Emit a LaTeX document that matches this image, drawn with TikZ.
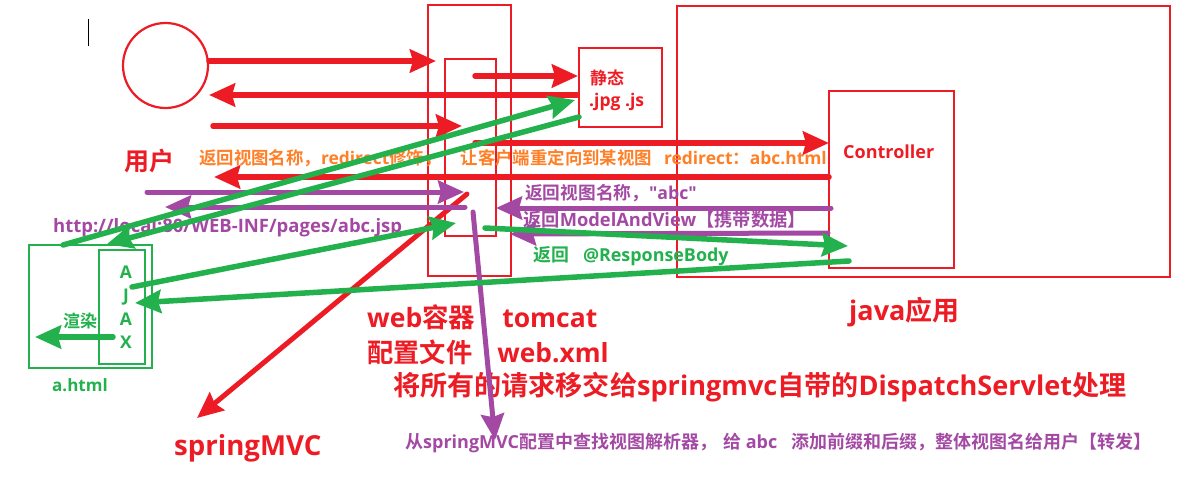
\documentclass[tikz,border=0pt]{standalone}
\usepackage{fontspec}
\setmainfont{Open Sans}
\newfontfamily\cjkfont{Noto Sans CJK SC}[BoldFont={Noto Sans CJK SC Bold}]
\usetikzlibrary{arrows.meta}
\definecolor{PaintRed}{HTML}{ED1C24}
\definecolor{PaintGreen}{HTML}{22B14C}
\definecolor{PaintPurple}{HTML}{A349A4}
\definecolor{PaintOrange}{HTML}{FF7F27}
\newcommand\pfont[1]{\fontsize{#1}{#1}\selectfont\bfseries}
\newcommand\zh[1]{{\cjkfont #1}}
\tikzset{
  redframe/.style={draw=PaintRed, line width=2.7pt, inner sep=0pt, rectangle},
  grnframe/.style={draw=PaintGreen, line width=2.7pt, inner sep=0pt, rectangle},
  lbl/.style={inner sep=0pt, anchor=west, font=\pfont{#1}},
  tip/.style={-{Stealth[length=26pt, width=23pt, inset=3pt]}, line cap=round},
  redarr/.style={tip, draw=PaintRed, line width=5.5pt},
  purarr/.style={tip, draw=PaintPurple, line width=5pt},
  grnarr/.style={tip, draw=PaintGreen, line width=5.5pt}
}
\begin{document}
\begin{tikzpicture}[x=1pt, y=-1pt]
  \useasboundingbox (0,0) rectangle (1181,484);
  \draw[line width=1pt] (88,19) -- (88,46);

  % boxes
  \node[circle, draw=PaintRed, line width=2.2pt, minimum size=85pt, inner sep=0pt] (user) at (165.5,65.5) {};
  \node[redframe, minimum width=83pt, minimum height=271pt] (tomcat) at (469.5,140.5) {};
  \node[redframe, minimum width=51pt, minimum height=177pt] (dispatch) at (470.5,147.5) {};
  \node[redframe, minimum width=83pt, minimum height=79pt] (static) at (620.5,87.5) {};
  \node[redframe, minimum width=493pt, minimum height=271pt] (javaapp) at (923.5,141.5) {};
  \node[redframe, minimum width=125pt, minimum height=177pt] (controller) at (891.5,179.5) {};
  \node[grnframe, minimum width=123pt, minimum height=123pt] (ahtml) at (90.5,306.5) {};
  \node[grnframe, minimum width=46pt, minimum height=114pt] (ajax) at (122,307) {};

  % texts
  \node[lbl=25, text=PaintRed] (userlbl) at (124,161) {\zh{用户}};
  \node[lbl=17.4, text=PaintOrange] (redirlbl) at (199,158) {\zh{返回视图名称，}redirect\zh{修饰，}\hspace{19pt}\zh{让客户端重定向到某视图}\hspace{12pt}redirect\zh{：}abc.html};
  \node[lbl=18, text=PaintRed] (ctrllbl) at (843,152) {Controller};
  \node[lbl=17, text=PaintRed] (staticlbl) at (590,78) {\zh{静态}};
  \node[lbl=17.5, text=PaintRed] (jpglbl) at (589,102) {.jpg .js};
  \node[lbl=17.7, text=PaintPurple] (viewlbl) at (525,193) {\zh{返回视图名称，}\textquotedbl abc\textquotedbl};
  \node[lbl=18.3, text=PaintPurple] (mavlbl) at (523,220) {\zh{返回}ModelAndView\zh{【携带数据】}};
  \node[lbl=17.9, text=PaintGreen] (bodylbl) at (533,256) {\zh{返回}\hspace{14pt}@ResponseBody};
  \node[lbl=18.5, text=PaintPurple] (urllbl) at (53,228) {http://local:80/WEB-INF/pages/abc.jsp};
  \node[inner sep=0pt, align=center, font=\pfont{17.5}, text=PaintGreen] (ajaxlbl) at (126,307) {A\\[6pt]J\\[6pt]A\\[6pt]X};
  \node[lbl=17, text=PaintGreen] (renderlbl) at (63,321) {\zh{渲染}};
  \node[lbl=17, text=PaintGreen] (ahtmllbl) at (52,385) {a.html};
  \node[lbl=26.5, text=PaintRed] (weblbl) at (367,317) {web\zh{容器}\hspace{27pt}tomcat};
  \node[lbl=26.3, text=PaintRed] (xmllbl) at (367,352) {\zh{配置文件}\hspace{25pt}web.xml};
  \node[lbl=27.1, text=PaintRed] (dsplbl) at (393,387) {\zh{将所有的请求移交给}springmvc\zh{自带的}DispatchServlet\zh{处理}};
  \node[lbl=27.6, text=PaintRed] (mvclbl) at (174,448) {springMVC};
  \node[lbl=27, text=PaintRed] (javalbl) at (849,312) {java\zh{应用}};
  \node[lbl=18, text=PaintPurple] (resolvlbl) at (405,443) {\zh{从}springMVC\zh{配置中查找视图解析器，}\hspace{6pt}\zh{给} abc\hspace{14pt}\zh{添加前缀和后缀，整体视图名给用户【转发】}};

  % arrow ends
  \coordinate (r1a) at (209,61);  \coordinate (r1b) at (436,61);
  \coordinate (r2a) at (577,95);  \coordinate (r2b) at (209,95);
  \coordinate (r3a) at (213,126); \coordinate (r3b) at (462,126);
  \coordinate (r4a) at (475,76);  \coordinate (r4b) at (578,76);
  \coordinate (r5a) at (475,143); \coordinate (r5b) at (829,143);
  \coordinate (r6a) at (829,177); \coordinate (r6b) at (214,177);
  \coordinate (r7a) at (467,194); \coordinate (r7b) at (197,418);
  \coordinate (p1a) at (147,192); \coordinate (p1b) at (464,192);
  \coordinate (p2a) at (465,207); \coordinate (p2b) at (165,207);
  \coordinate (p3a) at (831,208); \coordinate (p3b) at (496,208);
  \coordinate (p4a) at (828,233); \coordinate (p4b) at (510,234);
  \coordinate (p5a) at (473,212); \coordinate (p5b) at (495,440);
  \coordinate (g1a) at (63,245);  \coordinate (g1b) at (575,100);
  \coordinate (g2a) at (579,117); \coordinate (g2b) at (107,244);
  \coordinate (g3a) at (132,287); \coordinate (g3b) at (456,223);
  \coordinate (g4a) at (849,261); \coordinate (g4b) at (135,303);
  \coordinate (g5a) at (485,228); \coordinate (g5b) at (848,246);
  \coordinate (g6a) at (113,337); \coordinate (g6b) at (35,337);

  % red flows
  \draw[redarr] (r1a) -- (r1b);
  \draw[redarr] (r2a) -- (r2b);
  \draw[redarr] (r3a) -- (r3b);
  \draw[redarr] (r4a) -- (r4b);
  \draw[redarr] (r5a) -- (r5b);
  \draw[redarr] (r6a) -- (r6b);
  \draw[redarr, line width=5pt] (r7a) -- (r7b);
  % purple flows
  \draw[purarr] (p1a) -- (p1b);
  \draw[purarr] (p2a) -- (p2b);
  \draw[purarr] (p3a) -- (p3b);
  \draw[purarr] (p4a) -- (p4b);
  \draw[purarr] (p5a) -- (p5b);
  % green flows
  \draw[grnarr] (g1a) -- (g1b);
  \draw[grnarr] (g2a) -- (g2b);
  \draw[grnarr] (g3a) -- (g3b);
  \draw[grnarr] (g4a) -- (g4b);
  \draw[grnarr] (g5a) -- (g5b);
  \draw[grnarr] (g6a) -- (g6b);
\end{tikzpicture}
\end{document}
